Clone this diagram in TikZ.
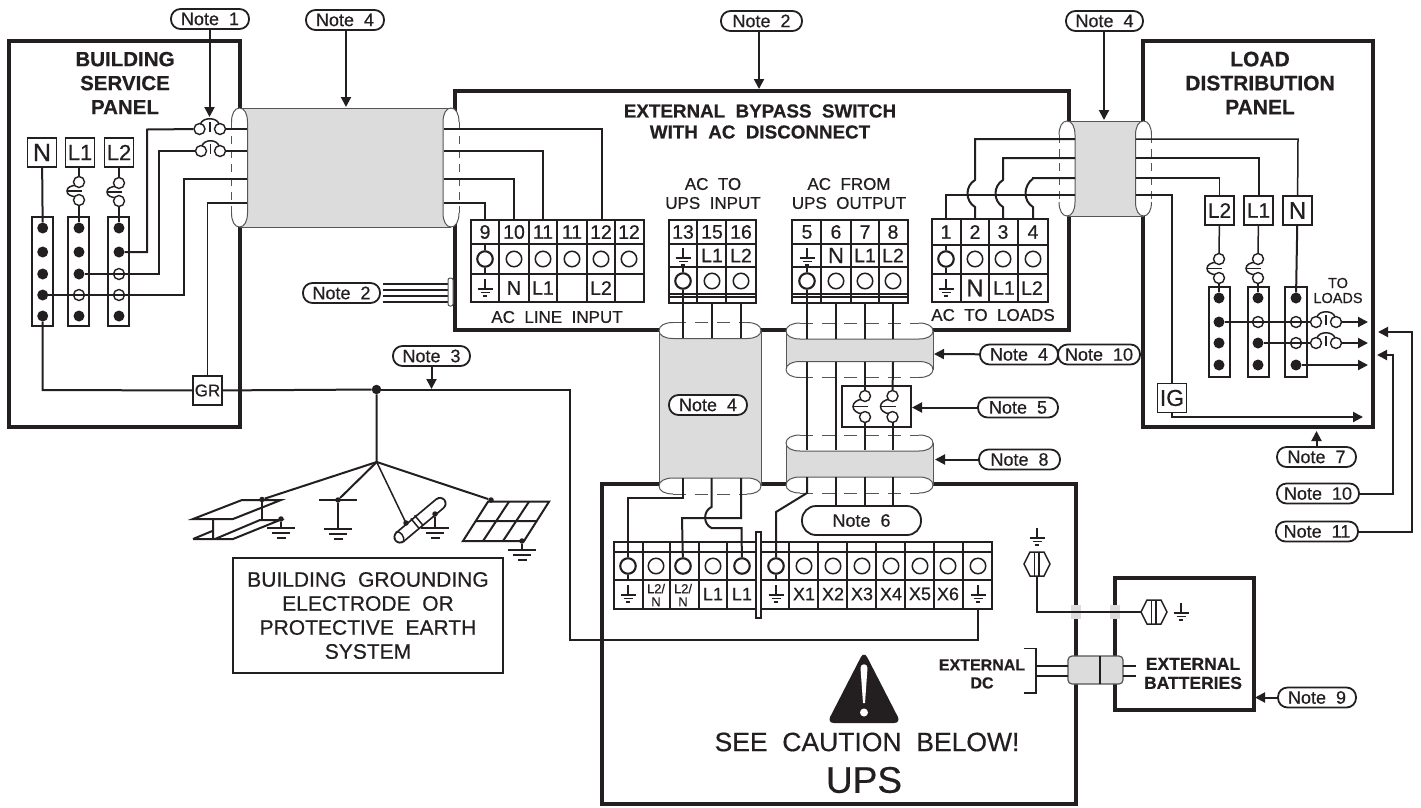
\documentclass[tikz,border=0pt]{standalone}
\usepackage{fontspec}
\setmainfont{Liberation Sans}[FakeBold=0.5]
\usetikzlibrary{arrows.meta}
\definecolor{ink}{HTML}{231F20}
\definecolor{shield}{HTML}{DCDCDC}
\definecolor{shellc}{HTML}{555555}
\newcommand{\fsz}[1]{\fontsize{#1}{#1}\selectfont}
\tikzset{
  wall/.style={draw=ink,line width=4pt},
  wire/.style={draw=ink,line width=2pt},
  fine/.style={draw=ink,line width=1.5pt},
  cell/.style={draw=ink,line width=1.7pt},
  shell/.style={draw=shellc,line width=1pt},
  tip/.style={wire,-{Triangle[length=10pt,width=10pt]}},
  pill/.style={draw=ink,fill=white,line width=1.8pt,rounded corners=9.5pt,minimum height=20pt,inner sep=0pt,font=\fsz{18},text=ink},
  lbox/.style={draw=ink,fill=white,line width=1.6pt,inner sep=0pt,minimum width=29pt,minimum height=29pt,text=ink},
  fd/.style={circle,fill=ink,inner sep=0pt,minimum size=11pt},
  sd/.style={circle,fill=ink,inner sep=0pt,minimum size=5.5pt},
  od/.style={circle,draw=ink,fill=white,line width=1.4pt,inner sep=0pt,minimum size=11pt},
  tc/.style={circle,draw=ink,fill=white,line width=1.5pt,inner sep=0pt,minimum size=15.5pt},
  tct/.style={tc,line width=2.1pt},
  txt/.style={inner sep=0pt,text=ink,align=center},
}
% vertical-sided cap: centre x, top y, bottom y, side of the shield (+1/-1)
\newcommand{\capV}[4]{%
  \fill[white] (#1,#2) .. controls ({#1+5},#2) and ({#1+8},{#2+6}) .. ({#1+8},{#2+14}) -- ({#1+8},{#3-14}) .. controls ({#1+8},{#3-6}) and ({#1+5},#3) .. (#1,#3) .. controls ({#1-5},#3) and ({#1-8},{#3-6}) .. ({#1-8},{#3-14}) -- ({#1-8},{#2+14}) .. controls ({#1-8},{#2+6}) and ({#1-5},#2) .. cycle;
  \draw[shell] (#1,#2) .. controls ({#1+(#4)*5},#2) and ({#1+(#4)*8},{#2+6}) .. ({#1+(#4)*8},{#2+14}) -- ({#1+(#4)*8},{#3-14}) .. controls ({#1+(#4)*8},{#3-6}) and ({#1+(#4)*5},#3) .. (#1,#3);
  \draw[shell] (#1,#2) .. controls ({#1-(#4)*5},#2) and ({#1-(#4)*8},{#2+6}) .. ({#1-(#4)*8},{#2+14});
  \draw[shell] (#1,#3) .. controls ({#1-(#4)*5},#3) and ({#1-(#4)*8},{#3-6}) .. ({#1-(#4)*8},{#3-14});
  \draw[shell,dash pattern=on 8pt off 6pt] ({#1-(#4)*8},{#2+14}) -- ({#1-(#4)*8},{#3-14});
}
% horizontal cap: centre y, left x, right x, side of the shield (+1 below, -1 above)
\newcommand{\capH}[4]{%
  \fill[white] (#2,#1) .. controls (#2,{#1+5}) and ({#2+6},{#1+8}) .. ({#2+14},{#1+8}) -- ({#3-14},{#1+8}) .. controls ({#3-6},{#1+8}) and (#3,{#1+5}) .. (#3,#1) .. controls (#3,{#1-5}) and ({#3-6},{#1-8}) .. ({#3-14},{#1-8}) -- ({#2+14},{#1-8}) .. controls ({#2+6},{#1-8}) and (#2,{#1-5}) .. cycle;
  \draw[shell] (#2,#1) .. controls (#2,{#1+(#4)*5}) and ({#2+6},{#1+(#4)*8}) .. ({#2+14},{#1+(#4)*8}) -- ({#3-14},{#1+(#4)*8}) .. controls ({#3-6},{#1+(#4)*8}) and (#3,{#1+(#4)*5}) .. (#3,#1);
  \draw[shell] (#2,#1) .. controls (#2,{#1-(#4)*5}) and ({#2+6},{#1-(#4)*8}) .. ({#2+14},{#1-(#4)*8});
  \draw[shell] (#3,#1) .. controls (#3,{#1-(#4)*5}) and ({#3-6},{#1-(#4)*8}) .. ({#3-14},{#1-(#4)*8});
  \draw[shell,dash pattern=on 13pt off 9pt] ({#2+14},{#1-(#4)*8}) -- ({#3-14},{#1-(#4)*8});
}
% small earth symbol, bars starting at y
\newcommand{\gnds}[2]{%
  \draw[fine] (#1,{#2-10}) -- (#1,#2);
  \draw[fine] ({#1-7.5},#2) -- ({#1+7.5},#2) ({#1-4.5},{#2+3.7}) -- ({#1+4.5},{#2+3.7});
  \draw[draw=ink,line width=1.6pt] ({#1-2.2},{#2+7.2}) -- ({#1+2.2},{#2+7.2});
}
% large earth symbol
\newcommand{\gndb}[2]{%
  \draw[fine] ({#1-14},#2) -- ({#1+14},#2) ({#1-9},{#2+5}) -- ({#1+9},{#2+5});
  \draw[draw=ink,line width=1.8pt] ({#1-4.5},{#2+10}) -- ({#1+4.5},{#2+10});
}
% fuse: name, x, y1, y2
\newcommand{\fuse}[4]{%
  \draw[fine] ({#2-3},{#3+3}) .. controls ({#2-8},{#3+4}) and ({#2-12},{(#3+#4)/2-4}) .. ({#2-12},{(#3+#4)/2}) .. controls ({#2-12},{(#3+#4)/2+4}) and ({#2-8},{#4-4}) .. ({#2-3},{#4-3});
  \draw[fine] ({#2-12},{(#3+#4)/2}) -- ({#2+3},{(#3+#4)/2});
  \node[od] (#1a) at (#2,#3) {};
  \node[od] (#1b) at (#2,#4) {};
}
% breaker: name, x1, x2, y
\newcommand{\brk}[4]{%
  \node[od] (#1a) at (#2,#4) {};
  \node[od] (#1b) at (#3,#4) {};
  \draw[fine] ({(#2+#3)/2},{#4-7}) -- ({(#2+#3)/2},{#4+3});
  \draw[fine] ({#2+1},{#4-5}) .. controls ({#2+3},{#4-12}) and ({#3-3},{#4-12}) .. ({#3-1},{#4-5});
}
% hexagonal lug
\newcommand{\lug}[2]{%
  \draw[fine,fill=white] ({#1-13},#2) -- ({#1-7},{#2-12}) -- ({#1+7},{#2-12}) -- ({#1+13},#2) -- ({#1+7},{#2+12}) -- ({#1-7},{#2+12}) -- cycle;
  \draw[fine] ({#1-2.5},{#2-12}) -- ({#1-2.5},{#2+12}) ({#1+2},{#2-12}) -- ({#1+2},{#2+12});
}
\begin{document}
\begin{tikzpicture}[x=1pt,y=-1pt]
\useasboundingbox (0,0) rectangle (1421,807);
\fill[white] (0,0) rectangle (1421,807);
% ---------- enclosures
\draw[wall] (9,41) rectangle (239.5,427);
\draw[wall] (455,91) rectangle (1069,330);
\draw[wall] (1143,41) rectangle (1373,427);
\draw[wall] (602,484) rectangle (1076,804);
\draw[wall] (1115,578) rectangle (1254,710);
\fill[shield] (1071,605) rectangle (1081,619);
\fill[shield] (1110,605) rectangle (1120,619);
% ---------- shields
\fill[shield] (239.5,108) rectangle (451,227);
\draw[shell] (239.5,108) -- (451,108) (239.5,227) -- (451,227);
\capV{239.5}{108}{227}{1}
\capV{451}{108}{227}{-1}
\fill[shield] (1067,121) rectangle (1143.5,216);
\draw[shell] (1067,121) -- (1143.5,121) (1067,216) -- (1143.5,216);
\capV{1067}{121}{216}{1}
\capV{1143.5}{121}{216}{-1}
\fill[shield] (659,330.5) rectangle (761,486);
\draw[shell] (659,330.5) -- (659,486) (761,330.5) -- (761,486);
\capH{330.5}{659}{761}{1}
\capH{486}{659}{761}{-1}
\fill[shield] (786,331) rectangle (933,369.5);
\draw[shell] (786,331) -- (786,369.5) (933,331) -- (933,369.5);
\capH{331}{786}{933}{1}
\capH{369.5}{786}{933}{-1}
\fill[shield] (786,443) rectangle (933,485);
\draw[shell] (786,443) -- (786,485) (933,443) -- (933,485);
\capH{443}{786}{933}{1}
\capH{485}{786}{933}{-1}
% ---------- titles
\node[txt,font=\bfseries\fontsize{20.5}{24}\selectfont] (tBldg) at (125,83) {BUILDING\\SERVICE\\PANEL};
\node[txt,font=\bfseries\fontsize{21}{24}\selectfont] (tLoad) at (1260,83) {LOAD\\DISTRIBUTION\\PANEL};
\node[txt,font=\bfseries\fontsize{18.8}{21}\selectfont] (tByp) at (760,121.5) {EXTERNAL\ \ BYPASS\ \ SWITCH\\WITH\ \ AC\ \ DISCONNECT};
\node[txt,font=\fontsize{17}{19}\selectfont] (tIn) at (713,193.5) {AC\ \ TO\\UPS\ \ INPUT};
\node[txt,font=\fontsize{17}{19}\selectfont] (tOut) at (849,193.5) {AC\ \ FROM\\UPS\ \ OUTPUT};
\node[txt,font=\fsz{17}] (tLine) at (557,317) {AC\ \ LINE\ \ INPUT};
\node[txt,font=\fsz{17}] (tToL) at (993,315) {AC\ \ TO\ \ LOADS};
\node[txt,font=\fontsize{14.5}{15}\selectfont] (tTo) at (1338,290.5) {TO\\LOADS};
\node[txt,font=\bfseries\fontsize{16}{18}\selectfont] (tExtDC) at (982,674) {EXTERNAL\\DC};
\node[txt,font=\bfseries\fontsize{17.5}{19}\selectfont] (tBatt) at (1193,673.5) {EXTERNAL\\BATTERIES};
\node[txt,font=\fsz{26.5}] (tSee) at (867,742) {SEE\ \ CAUTION\ \ BELOW!};
\node[txt,font=\fsz{37}] (tUps) at (864,780) {UPS};
% ---------- building service panel
\node[lbox,font=\fsz{25}] (pN) at (42,152.5) {N};
\node[lbox,font=\fsz{22}] (pL1) at (80,152.5) {L1};
\node[lbox,font=\fsz{22}] (pL2) at (119,152.5) {L2};
\draw[cell] (32,217) rectangle (53,326);
\draw[cell] (68,217) rectangle (89,326);
\draw[cell] (108,217) rectangle (129,326);
\foreach \y [count=\i] in {228,252,274,295,316}{\node[fd] (dN\i) at (42.7,\y) {};}
\foreach \y/\st [count=\i] in {228/fd,252/fd,274/fd,295/od,316/fd}{\node[\st] (dA\i) at (79,\y) {};}
\foreach \y/\st [count=\i] in {228/fd,252/fd,274/od,295/od,316/fd}{\node[\st] (dB\i) at (119,\y) {};}
\fuse{fA}{79}{182}{200}
\fuse{fB}{119}{183}{201}
\brk{bA}{199.5}{220}{129}
\brk{bB}{201}{220}{151}
\node[lbox,font=\fsz{17}] (GR) at (207.5,390.5) {GR};
\foreach \n/\y in {1/129,2/151,3/179,4/203}{\coordinate (sL\n) at (247,\y); \coordinate (sR\n) at (444,\y);}
\draw[wire] (pN) -- (dN1);
\draw[wire] (pL1.south -| fAa) -- (fAa); \draw[wire] (fAb) -- (dA1);
\draw[wire] (pL2) -- (fBa); \draw[wire] (fBb) -- (dB1);
\draw[wire] (dB2) -- (147,252) -- (147,129.5) -- (bAa);
\draw[wire] (bAb) -- (sL1);
\draw[wire] (dA3) -- (159,274) -- (159,151) -- (bBa);
\draw[wire] (bBb) -- (sL2);
\draw[wire] (dN4) -- (184,295) -- (184,179) -- (sL3);
\draw[fine] (GR) -- (207.5,203) -- (sL4);
\draw[wire] (dN5) -- (42.7,390) -- (GR);
\node[fd,minimum size=9.5pt] (junc) at (376.5,389.5) {};
\draw[wire] (GR) -- (junc);
% ---------- ground electrodes
\coordinate (hub) at (376.7,462);
\node[sd] (eBeam) at (262,499.5) {};
\node[sd] (eBeamG) at (281,519) {};
\node[sd] (eT) at (338,500) {};
\node[sd] (eGrid) at (491,500) {};
\node[sd] (eGridG) at (522,541) {};
\coordinate (eRodW) at (406,523);
\draw[wire] (junc) -- (hub);
\draw[wire] (hub) -- (eBeam);
\draw[wire] (hub) -- (eT);
\draw[fine] (hub) -- (eRodW);
\draw[wire] (hub) -- (eGrid);
% I-beam
\draw[wire] (193,519) -- (242,500) -- (281,500) -- (233,519) -- cycle;
\draw[wire] (213,519) -- (213,539) (193,539) -- (233,539) -- (280,520) -- (260,520) -- (215,539);
\draw[wire] (193,539) -- (213,530.7);
\draw[fine] (262,500) -- (262,519);
\draw[fine] (eBeamG) -- (281,528); \gndb{281}{528}
% T electrode
\draw[wire] (319,500) -- (357,500);
\draw[fine] (eT) -- (338,529); \gndb{338}{529}
% rod
\draw[draw=ink,line width=1.8pt,double=white,double distance=9.5pt,line cap=round] (400,537) -- (440,503.5);
\draw[fine] (419.2,528.5) -- (410.8,518.5) (423,525.3) -- (414.6,515.3);
\draw[fine] (395.5,532) .. controls (400,530) and (405.5,537) .. (403.5,542);
\node[sd] (eRod) at (406,523) {};
\node[sd] (eRodG) at (435,514) {};
\draw[fine] (eRodG) -- (435,528); \gndb{435}{528}
% grid
\draw[wire] (488,501.7) -- (549,501.7) -- (524,541) -- (463,541) -- cycle;
\draw[wire] (476,521) -- (537,521) (509,501.7) -- (483,541) (529,501.7) -- (503,541);
\draw[fine] (eGridG) -- (522,550); \gndb{522}{550}
\node[txt,draw=ink,line width=1.6pt,minimum width=270pt,minimum height=115pt,font=\fontsize{21}{24}\selectfont] (gBox) at (368,615.5) {BUILDING\ \ GROUNDING\\ELECTRODE\ \ OR\\PROTECTIVE\ \ EARTH\\SYSTEM};
% ---------- AC line input block
\draw[cell] (471,220) rectangle (644,302);
\draw[cell] (471,244) -- (644,244) (471,274) -- (644,274);
\foreach \x in {499,529,557,587,615}{\draw[cell] (\x,220) -- (\x,302);}
\foreach \x/\t in {485/9,514/10,543/11,572/11,601/12,629/12}{\node[txt,font=\fsz{19.5}] (la\x) at (\x,232) {\t}; \coordinate (lt\x) at (\x,220);}
\foreach \x in {514,543,572,601,629}{\node[tc] (lc\x) at (\x,259) {};}
\node[tct] (lc485) at (485,259) {};
\draw[fine] (485,244) -- (lc485); \draw[fine] (lc485) -- (485,274);
\gnds{485}{289}
\node[txt,font=\fsz{20}] (ll514) at (514,288) {N};
\foreach \x/\t in {543/L1,601/L2}{\node[txt,font=\fsz{19.5}] (ll\x) at (\x,288) {\t};}
\draw[wire] (sR4) -- (485,203) -- (lt485);
\draw[wire] (sR3) -- (514,179) -- (lt514);
\draw[wire] (sR2) -- (543,151) -- (lt543);
\draw[fine] (sR1) -- (602,129) -- (602,220);
% ---------- AC to UPS input block
\draw[cell] (669,220) rectangle (756,303);
\draw[cell] (669,244) -- (756,244) (669,267) -- (756,267) (669,294) -- (756,294) (669,297) -- (756,297);
\foreach \x in {697,726}{\draw[cell] (\x,220) -- (\x,303);}
\foreach \x/\t in {683/13,712/15,741/16}{\node[txt,font=\fsz{19.5}] (ua\x) at (\x,232) {\t};}
\foreach \x/\t in {712/L1,741/L2}{\node[txt,font=\fsz{19.5}] (ul\x) at (\x,255.5) {\t};}
\gnds{683}{258}
\node[tct] (uc683) at (683,281) {};
\foreach \x in {712,741}{\node[tc] (uc\x) at (\x,281) {};}
\draw[fine] (683,267) -- (uc683);
\draw[wire] (uc683) -- (683,338);
\draw[fine] (712,303) -- (712,338);
\draw[wire] (741,303) -- (741,338);
% ---------- AC from UPS output block
\draw[cell] (792,220) rectangle (908,303);
\draw[cell] (792,244) -- (908,244) (792,267) -- (908,267) (792,294) -- (908,294) (792,297) -- (908,297);
\foreach \x in {821,851,879}{\draw[cell] (\x,220) -- (\x,303);}
\foreach \x/\t in {807/5,836/6,865/7,893/8}{\node[txt,font=\fsz{19.5}] (oa\x) at (\x,232) {\t};}
\node[txt,font=\fsz{22}] (ol836) at (836,255.5) {N};
\foreach \x/\t in {865/L1,893/L2}{\node[txt,font=\fsz{19.5}] (ol\x) at (\x,255.5) {\t};}
\gnds{807}{258}
\node[tct] (oc807) at (807,281) {};
\foreach \x in {836,865,893}{\node[tc] (oc\x) at (\x,281) {};}
\draw[fine] (807,267) -- (oc807);
\draw[wire] (oc807) -- (807,339);
\foreach \x in {836,865,893}{\draw[wire] (\x,303) -- (\x,339);}
% ---------- AC to loads block
\draw[cell] (932,219) rectangle (1048,302);
\draw[cell] (932,245) -- (1048,245) (932,274) -- (1048,274);
\foreach \x in {961,989,1018}{\draw[cell] (\x,219) -- (\x,302);}
\foreach \x/\t in {946/1,975/2,1003/3,1033/4}{\node[txt,font=\fsz{19.5}] (ta\x) at (\x,232) {\t};}
\node[tct] (tc946) at (946,259) {};
\foreach \x in {975,1003,1033}{\node[tc] (tc\x) at (\x,259) {};}
\draw[fine] (946,245) -- (tc946); \draw[fine] (tc946) -- (946,274);
\gnds{946}{289}
\node[txt,font=\fsz{24}] (tl975) at (975,288) {N};
\node[txt,font=\fsz{19.5}] (tl1003) at (1004,288) {L1};
\node[txt,font=\fsz{19.5}] (tl1033) at (1032,288) {L2};
\foreach \n/\y in {1/139,2/158,3/178,4/195}{\coordinate (rL\n) at (1075,\y); \coordinate (rR\n) at (1136,\y);}
\draw[wire] (rL4) -- (946,195) -- (946,219);
\draw[wire] (rL1) -- (975,139) -- (975,180) .. controls (965,186) and (965,201) .. (975,207) -- (975,219);
\draw[wire] (rL2) -- (1003,158) -- (1003,180) .. controls (993,186) and (993,201) .. (1003,207) -- (1003,219);
\draw[wire] (rL3) -- (1033,178) -- (1033,178.5) .. controls (1023,186) and (1023,201) .. (1033,207) -- (1033,219);
% ---------- load distribution panel
\node[lbox,font=\fsz{21}] (qL2) at (1219.5,210.5) {L2};
\node[lbox,font=\fsz{21}] (qL1) at (1258.5,210.5) {L1};
\node[lbox,font=\fsz{24}] (qN) at (1297.5,210.5) {N};
\draw[cell] (1209,287) rectangle (1230,377);
\draw[cell] (1248,287) rectangle (1269,377);
\draw[cell] (1285,287) rectangle (1307,377);
\foreach \y/\st [count=\i] in {298/fd,322/fd,343/fd,365/fd}{\node[\st] (e\i) at (1219,\y) {};}
\foreach \y/\st [count=\i] in {298/fd,322/od,343/fd,365/fd}{\node[\st] (f\i) at (1258,\y) {};}
\foreach \y/\st [count=\i] in {298/fd,322/od,343/od,365/fd}{\node[\st] (g\i) at (1296,\y) {};}
\fuse{fC}{1219}{259}{278}
\fuse{fD}{1258}{259}{278}
\brk{bC}{1316}{1336}{322}
\brk{bD}{1316}{1336}{343}
\node[lbox,font=\fsz{23}] (IG) at (1172,398) {IG};
\coordinate (lo1) at (1368,322); \coordinate (lo2) at (1368,343); \coordinate (lo3) at (1368,365); \coordinate (lo4) at (1363,417);
\draw[fine] (rR1) -- (1298,139) -- (qN);
\draw[wire] (rR2) -- (1258.5,158) -- (qL1);
\draw[fine] (rR3) -- (1219.5,178) -- (qL2);
\draw[wire] (rR4) -- (1172,195) -- (IG);
\draw[fine] (qL2) -- (fCa); \draw[fine] (qL1) -- (fDa);
\draw[wire] (fCb) -- (e1); \draw[wire] (fDb) -- (f1);
\draw[wire] (qN) -- (g1);
\draw[wire] (e2) -- (bCa);
\draw[wire] (f3) -- (bDa);
\draw[tip] (bCb) -- (lo1);
\draw[tip] (bDb) -- (lo2);
\draw[tip] (g4) -- (lo3);
\draw[tip] (IG.south) -- (1172,417) -- (lo4);
% ---------- cables between the blocks and the UPS
\draw[draw=ink,line width=1.7pt] (842,386) rectangle (911,427);
\fuse{fE}{865}{396}{417}
\fuse{fF}{892.5}{396}{417}
\draw[wire] (865,362) -- (fEa); \draw[wire] (893,362) -- (fFa);
\draw[wire] (fEb) -- (865,450); \draw[wire] (fFb) -- (892.5,450);
\draw[wire] (807,362) -- (807,450);
\draw[wire] (836,362) -- (836,450);
% ---------- UPS terminal strip
\draw[cell] (614,542) rectangle (992,609);
\draw[cell] (614,552) -- (992,552) (614,580) -- (992,580);
\foreach \x in {643,670,699,727,789,818,847,876,905,934,963}{\draw[cell] (\x,542) -- (\x,609);}
\draw[draw=ink,line width=2pt,fill=white] (755.5,532) rectangle (760.5,618);
\foreach \x in {656,713,804,833,862,891,920,948,978}{\node[tc] (sc\x) at (\x,566) {};}
\foreach \x in {628,683,742,776}{\node[tct] (sc\x) at (\x,566) {};}
\foreach \x in {628,776}{\draw[fine] (sc\x) -- (\x,580); \gnds{\x}{595}}
\gnds{978}{595}
\foreach \x in {656,683}{\node[txt,font=\fontsize{13}{13}\selectfont] (sl\x) at (\x,595) {L2/\\N};}
\foreach \x/\t in {713/L1,742/L1,804/X1,833/X2,862/X3,891/X4,920/X5,948/X6}{\node[txt,font=\fsz{18}] (sl\x) at (\x,594) {\t};}
\draw[wire] (683,478) -- (683,498) -- (628,498) -- (sc628);
\draw[wire] (741,478) -- (741,518) -- (682,518) -- (sc683);
\draw[wire] (711.5,478) -- (711.5,507) .. controls (703,511) and (703,524) .. (711.5,528) -- (741.5,528) -- (sc742);
\draw[wire] (807,477) -- (807,493) -- (776,512) -- (sc776);
\node[pill,minimum width=119pt,minimum height=29pt,rounded corners=14pt] (n6) at (861.5,520.5) {Note\ \ 6};
\draw[wire] (836,477) -- (836,506);
\draw[wire] (865,477) -- (865,506);
\draw[wire] (892.5,477) -- (892.5,506);
\draw[wire] (978,609) -- (978,639.5) -- (569.5,639.5) -- (569.5,389.5) -- (junc);
% ---------- battery side
\lug{1037}{564}
\lug{1154}{612}
\gnds{1037}{538}
\gnds{1181}{613}
\draw[wire] (1037,576) -- (1037,612) -- (1141,612);
\draw[draw=shellc,line width=1.2pt,fill=shield,rounded corners=4pt] (1068,656) rectangle (1123,684);
\draw[wire] (1100,656) -- (1100,684);
\draw[fine] (1036,666) -- (1068,666) (1036,676) -- (1068,676) (1123,666) -- (1136,666) (1123,676) -- (1136,676);
\draw[fine] (1024,648.5) -- (1036,648.5) -- (1036,693) -- (1024,693);
% ---------- warning sign
\fill[ink,rounded corners=7pt] (864,651) -- (901,723) -- (827,723) -- cycle;
\fill[white] (860.5,668) .. controls (860.5,663) and (867.5,663) .. (867.5,668) -- (865,703) -- (863,703) -- cycle;
\fill[white] (864,712.5) circle (4);
% ---------- notes
\node[pill,minimum width=78pt] (n1) at (210,19) {Note\ \ 1};
\node[pill,minimum width=78pt] (n4a) at (345,20) {Note\ \ 4};
\node[pill,minimum width=81pt] (n2a) at (761.5,21) {Note\ \ 2};
\node[pill,minimum width=77pt] (n4b) at (1104.5,21) {Note\ \ 4};
\node[pill,minimum width=77pt] (n2b) at (341.5,293) {Note\ \ 2};
\node[pill,minimum width=77pt] (n3) at (431.5,356) {Note\ \ 3};
\node[pill,minimum width=78pt] (n4c) at (708,405) {Note\ \ 4};
\node[pill,minimum width=78pt] (n4d) at (1019,354.5) {Note\ \ 4};
\node[pill,minimum width=82pt] (n10a) at (1099,354.5) {Note\ \ 10};
\node[pill,minimum width=80pt] (n5) at (1018,407.5) {Note\ \ 5};
\node[pill,minimum width=81pt] (n8) at (1019.5,459.5) {Note\ \ 8};
\node[pill,minimum width=79pt] (n7) at (1316.5,457) {Note\ \ 7};
\node[pill,minimum width=82pt] (n10b) at (1318,493.5) {Note\ \ 10};
\node[pill,minimum width=82pt] (n11) at (1317,531.5) {Note\ \ 11};
\node[pill,minimum width=78pt] (n9) at (1317,697.5) {Note\ \ 9};
\coordinate (c1) at (209.5,117); \coordinate (c4a) at (346,107); \coordinate (c2a) at (759,89);
\coordinate (c4b) at (1104,120); \coordinate (c3) at (431.5,389); \coordinate (c4d) at (934,354);
\coordinate (c5) at (912,407.5); \coordinate (c8) at (935,459.5); \coordinate (c7) at (1316.5,431);
\coordinate (c10) at (1377,355); \coordinate (c11) at (1378,332); \coordinate (c9) at (1255,697.5);
\draw[tip] (n1.south -| c1) -- (c1);
\draw[tip] (n4a.south -| c4a) -- (c4a);
\draw[tip] (n2a.south -| c2a) -- (c2a);
\draw[tip] (n4b.south -| c4b) -- (c4b);
\draw[tip] (n3) -- (c3);
\draw[tip] (n4d) -- (c4d);
\draw[tip] (n5) -- (c5);
\draw[tip] (n8) -- (c8);
\draw[tip] (n7) -- (c7);
\draw[tip] (n10b) -- (1393,493.5) -- (1393,355) -- (c10);
\draw[tip] (n11) -- (1412,531.5) -- (1412,332) -- (c11);
\draw[tip] (n9) -- (c9);
\foreach \y in {284,290,296,302}{\draw[fine] (383,\y) -- (448,\y);}
\draw[shell,rounded corners=2pt,fill=white] (448,278) -- (453,278) -- (453,306) -- (448,306) -- cycle;
\end{tikzpicture}
\end{document}
